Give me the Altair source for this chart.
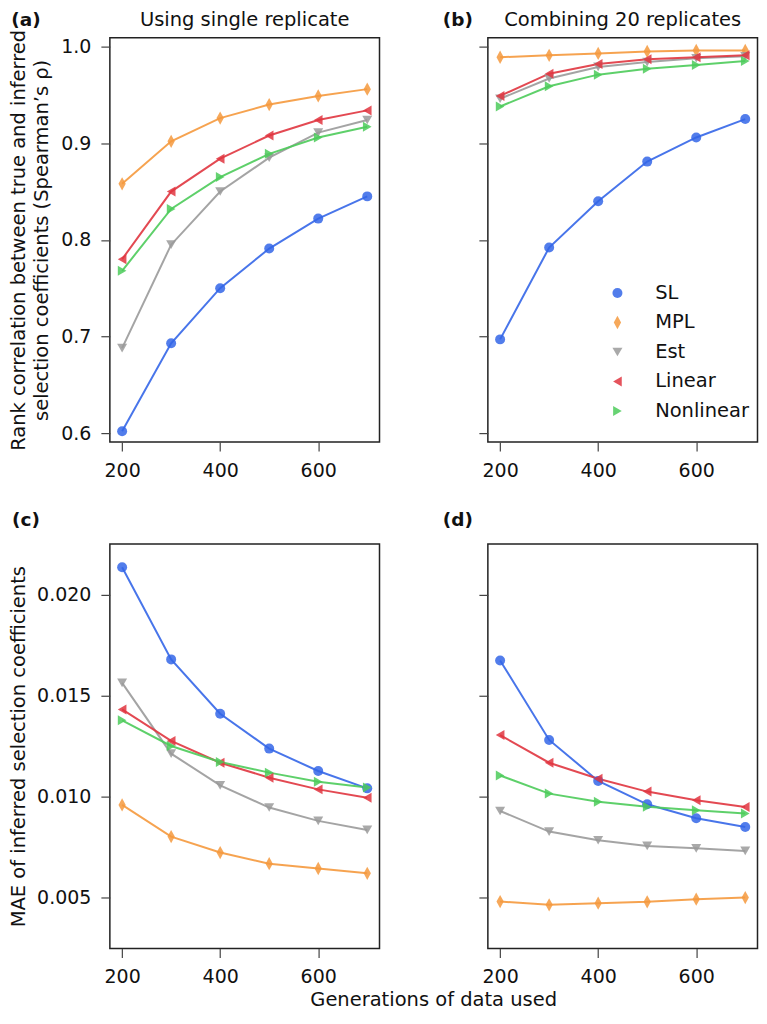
import altair as alt
import pandas as pd

FONT = "DejaVu Sans"

gens = [200, 300, 400, 500, 600, 700]
methods = ["SL", "MPL", "Est", "Linear", "Nonlinear"]
colors = ["#3466e8", "#f5993d", "#9a9a9a", "#e0353f", "#4ccb5a"]
shapes = ["circle", "M0,-1.33L0.73,0L0,1.33L-0.73,0Z", "triangle-down", "triangle-left", "triangle-right"]

# (a) single replicate, Spearman rho
a_SL = [0.602, 0.693, 0.750, 0.791, 0.822, 0.845]
a_MPL = [0.858, 0.902, 0.926, 0.940, 0.949, 0.956]
a_Est = [0.688, 0.795, 0.850, 0.885, 0.911, 0.924]
a_Linear = [0.780, 0.850, 0.884, 0.908, 0.924, 0.934]
a_Nonlinear = [0.768, 0.832, 0.865, 0.889, 0.906, 0.917]

# (b) combining 20 replicates, Spearman rho
b_SL = [0.697, 0.792, 0.840, 0.881, 0.906, 0.925]
b_MPL = [0.989, 0.991, 0.993, 0.995, 0.996, 0.996]
b_Est = [0.946, 0.967, 0.979, 0.984, 0.988, 0.990]
b_Linear = [0.949, 0.972, 0.982, 0.987, 0.989, 0.991]
b_Nonlinear = [0.938, 0.959, 0.971, 0.977, 0.981, 0.985]

# (c) single replicate, MAE
c_SL = [0.02137, 0.0168, 0.01411, 0.01238, 0.01127, 0.01041]
c_MPL = [0.00959, 0.00802, 0.00723, 0.00668, 0.00644, 0.00620]
c_Est = [0.01564, 0.01213, 0.01056, 0.00946, 0.00880, 0.00835]
c_Linear = [0.01432, 0.01276, 0.01168, 0.01094, 0.01036, 0.00995]
c_Nonlinear = [0.01378, 0.01251, 0.01172, 0.01119, 0.01074, 0.01045]

# (d) combining 20 replicates, MAE
d_SL = [0.01675, 0.01281, 0.01078, 0.00962, 0.00893, 0.00850]
d_MPL = [0.00480, 0.00464, 0.00472, 0.00479, 0.00492, 0.00500]
d_Est = [0.00929, 0.00827, 0.00784, 0.00756, 0.00744, 0.00731]
d_Linear = [0.01305, 0.01168, 0.01089, 0.01025, 0.00982, 0.00949]
d_Nonlinear = [0.01105, 0.01015, 0.00975, 0.00950, 0.00932, 0.00916]

rho_ticks = [0.6, 0.7, 0.8, 0.9, 1.0]
mae_ticks = [0.005, 0.010, 0.015, 0.020]
x_ticks = [200, 400, 600]

rho_title = ["Rank correlation between true and inferred", "selection coefficients (Spearman\u2019s \u03c1)"]
mae_title = "MAE of inferred selection coefficients"
x_title = "Generations of data used"

W, H = 270, 405
GAP_X, GAP_Y = 108.5, 102


def to_df(series):
    rows = []
    for m, vals in zip(methods, series):
        for g, v in zip(gens, vals):
            rows.append({"gen": g, "method": m, "value": v})
    return pd.DataFrame(rows)


def txt(label, x, y, size=19.5, weight="normal"):
    return alt.Chart(pd.DataFrame({"t": [label]})).mark_text(
        font=FONT, fontSize=size, fontWeight=weight, align="center", baseline="middle", color="#111"
    ).encode(x=alt.value(x), y=alt.value(y), text="t:N")


def panel(series, ydom, yticks, yfmt, ytitle, show_labels, tag, head=None, extra=None, with_legend=False):
    df = to_df(series)
    base = alt.Chart(df)
    x = alt.X("gen:Q", scale=alt.Scale(domain=[175, 725], nice=False, zero=False),
              axis=alt.Axis(values=x_ticks, format="d", title=None))
    yaxis_kw = dict(values=yticks, format=yfmt, labels=show_labels)
    if ytitle is not None:
        yaxis_kw.update(title=ytitle, titleX=-100, titleY=H / 2, titleAngle=270,
                        titleAlign="center", titleBaseline="top", titleLineHeight=23)
    else:
        yaxis_kw.update(title=None)
    y = alt.Y("value:Q", scale=alt.Scale(domain=ydom, nice=False, zero=False), axis=alt.Axis(**yaxis_kw))
    cscale = alt.Scale(domain=methods, range=colors)
    sscale = alt.Scale(domain=methods, range=shapes)
    if with_legend:
        legend = alt.Legend(title=None, orient="none", legendX=120, legendY=246, zindex=1)
        cenc = alt.Color("method:N", scale=cscale, legend=legend)
        senc = alt.Shape("method:N", scale=sscale, legend=legend)
    else:
        cenc = alt.Color("method:N", scale=cscale, legend=None)
        senc = alt.Shape("method:N", scale=sscale, legend=None)
    lines = base.mark_line(strokeWidth=2, opacity=0.9).encode(
        x=x, y=y, stroke=alt.Stroke("method:N", scale=cscale, legend=None), detail="method:N")
    pts = base.mark_point(filled=True, size=100, opacity=0.85).encode(
        x=x, y=y, color=cenc, shape=senc)
    layers = [lines, pts, txt(tag[0], tag[1], tag[2], size=18.5, weight="bold")]
    if head is not None:
        layers.append(txt(head, W / 2, -18, size=19.5))
    if extra is not None:
        layers.append(extra)
    return alt.layer(*layers).properties(width=W, height=H)


rho_dom = [0.5907, 1.0093]
mae_dom = [0.00248, 0.02252]

pa = panel([a_SL, a_MPL, a_Est, a_Linear, a_Nonlinear], rho_dom, rho_ticks, ".1f", rho_title, True,
           ("(a)", -84, -18), head="Using single replicate")
pb = panel([b_SL, b_MPL, b_Est, b_Linear, b_Nonlinear], rho_dom, rho_ticks, ".1f", None, False,
           ("(b)", -30, -18), head="Combining 20 replicates", with_legend=True)
pc = panel([c_SL, c_MPL, c_Est, c_Linear, c_Nonlinear], mae_dom, mae_ticks, ".3f", mae_title, True,
           ("(c)", -84, -24), extra=txt(x_title, (2 * W + GAP_X) / 2, 457))
pd_ = panel([d_SL, d_MPL, d_Est, d_Linear, d_Nonlinear], mae_dom, mae_ticks, ".3f", None, False,
            ("(d)", -30, -24))

chart = alt.ConcatChart(
    concat=[pa, pb, pc, pd_], columns=2,
    spacing=alt.RowColnumber(row=GAP_Y, column=GAP_X), bounds="flush",
).resolve_legend(
    color="independent", shape="independent"
).properties(padding=0).configure_view(
    stroke="#222", strokeWidth=1.5
).configure_axis(
    domain=False, grid=False, tickSize=9, tickWidth=1.2, tickColor="#444",
    labelFont=FONT, labelFontSize=19, labelColor="#111", labelPadding=10,
    titleFont=FONT, titleFontSize=19.5, titleFontWeight="normal", titleColor="#111",
).configure_legend(
    labelFont=FONT, labelFontSize=19.5, labelColor="#111", symbolSize=100, labelOffset=28,
    rowPadding=8.5,
)

chart.save("out.html", embed_options={"renderer": "svg", "actions": False})
